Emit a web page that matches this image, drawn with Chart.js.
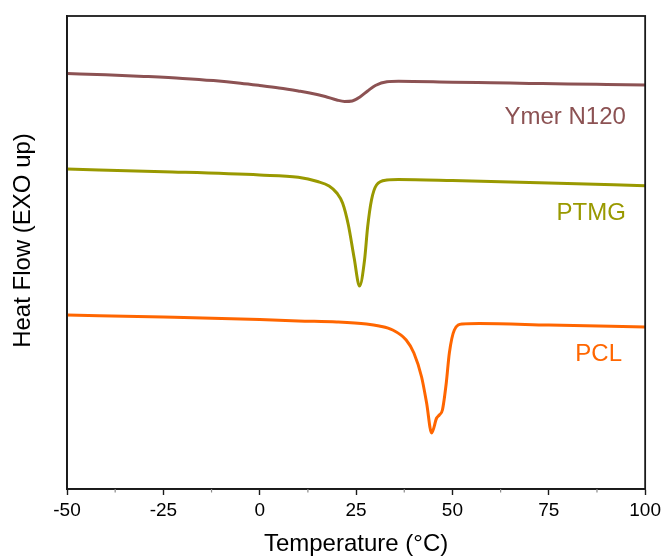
<!DOCTYPE html>
<html lang="en">
<head>
    <meta charset="UTF-8">
    <title>DSC curves</title>
    <script src="https://cdn.jsdelivr.net/npm/chart.js"></script>
    <style>
        html, body { margin: 0; padding: 0; background: #fff; }
        #wrap { width: 665px; height: 559px; }
    </style>
</head>
<body>
<div id="wrap"><canvas id="dsc"></canvas></div>
<script>
// Temperatures (°C) and heat flow readings (arbitrary units, EXO up)
const ymerTemp = [-50, -40, -30, -20, -12, -5, 0, 5, 10, 13, 17, 20, 22, 24, 26, 28, 30, 33, 36, 50, 60, 70, 80, 90, 100];
const ymerFlow = [415.5, 414.3, 412.6, 410.6, 408.4, 405.8, 403.5, 401, 398, 396, 392.5, 389, 387.5, 388, 392, 398, 403.5, 407.3, 407.8, 406.8, 406.2, 405.6, 405, 404.5, 404];

const ptmgTemp = [-50, -25, 0, 10, 15, 18, 20, 21.5, 23, 24.5, 25.9, 27.2, 28, 29, 30.3, 33, 36, 50, 75, 100];
const ptmgFlow = [320, 317.3, 314, 311.7, 307.5, 303, 296, 286, 264, 231, 203, 229, 262, 289, 304, 309, 309.5, 308.5, 306, 303.3];

const pclTemp = [-50, -25, 0, 10, 20, 27.7, 31, 34.5, 38, 40, 42, 43.3, 44.6, 45.9, 46.6, 47.4, 48.4, 49.2, 50.5, 52.6, 57, 75, 100];
const pclFlow = [174, 172, 169.5, 168, 167, 165, 163, 159, 149, 136, 112, 86, 56, 71, 74, 79, 106, 136, 159, 165, 165.5, 164, 162];

const xTicks = [-50, -25, 0, 25, 50, 75, 100];

const seriesNames = ['Ymer N120', 'PTMG', 'PCL'];
const seriesColors = ['#8c5253', '#999900', '#ff6600'];
// label anchor (right edge) in data units
const labelAt = [[95, 372], [95, 276], [94, 135]];

function pairs(xs, ys) {
    return xs.map((x, i) => ({ x: x, y: ys[i] }));
}

// frame + minor ticks + curve labels + y title
const framePlugin = {
    id: 'frame',
    afterDraw(chart) {
        const ctx = chart.ctx;
        const a = chart.chartArea;
        const xs = chart.scales.x;
        const ys = chart.scales.y;
        ctx.save();
        ctx.strokeStyle = '#1a1a1a';
        ctx.lineWidth = 1.8;
        ctx.strokeRect(a.left, a.top, a.right - a.left, a.bottom - a.top);
        // minor ticks
        ctx.strokeStyle = '#8a8a8a';
        ctx.lineWidth = 1.2;
        for (let v = -37.5; v < 100; v += 25) {
            const px = xs.getPixelForValue(v);
            ctx.beginPath();
            ctx.moveTo(px, a.bottom);
            ctx.lineTo(px, a.bottom + 3.5);
            ctx.stroke();
        }
        ctx.font = '24px "Liberation Sans", Arial, sans-serif';
        ctx.textAlign = 'right';
        ctx.textBaseline = 'middle';
        seriesNames.forEach((name, i) => {
            ctx.fillStyle = seriesColors[i];
            ctx.fillText(name, xs.getPixelForValue(labelAt[i][0]), ys.getPixelForValue(labelAt[i][1]));
        });
        // y axis title, sits a little above the middle of the frame
        ctx.fillStyle = '#000';
        ctx.textAlign = 'center';
        ctx.translate(23, (a.top + a.bottom) / 2 - 12);
        ctx.rotate(-Math.PI / 2);
        ctx.fillText('Heat Flow (EXO up)', 0, 0);
        ctx.restore();
    }
};

new Chart(document.getElementById('dsc'), {
    type: 'line',
    data: {
        datasets: [
            { label: seriesNames[0], data: pairs(ymerTemp, ymerFlow), borderColor: seriesColors[0] },
            { label: seriesNames[1], data: pairs(ptmgTemp, ptmgFlow), borderColor: seriesColors[1] },
            { label: seriesNames[2], data: pairs(pclTemp, pclFlow), borderColor: seriesColors[2] }
        ]
    },
    options: {
        responsive: true,
        maintainAspectRatio: false,
        animation: false,
        layout: { padding: { top: 16, right: 19, left: 0, bottom: 0 } },
        elements: {
            point: { radius: 0 },
            line: { borderWidth: 3, cubicInterpolationMode: 'monotone', fill: false }
        },
        plugins: {
            legend: { display: false },
            tooltip: { enabled: false }
        },
        scales: {
            x: {
                type: 'linear',
                min: -50,
                max: 100,
                afterBuildTicks: (s) => { s.ticks = xTicks.map(v => ({ value: v })); },
                afterFit: (s) => { s.height = 70; },
                border: { display: true, color: '#1a1a1a', width: 1.8 },
                grid: { drawOnChartArea: false, tickLength: 6, tickColor: '#1a1a1a', tickWidth: 1.4 },
                ticks: {
                    color: '#000',
                    padding: 4,
                    maxRotation: 0,
                    font: { family: '"Liberation Sans", Arial, sans-serif', size: 19 }
                },
                title: {
                    display: true,
                    text: 'Temperature (°C)',
                    color: '#000',
                    padding: { top: 6, bottom: 0 },
                    font: { family: '"Liberation Sans", Arial, sans-serif', size: 24 }
                }
            },
            y: {
                type: 'linear',
                min: 0,
                max: 473,
                afterFit: (s) => { s.width = 67; },
                border: { display: true, color: '#1a1a1a', width: 1.8 },
                grid: { display: false },
                ticks: { display: false },
                title: { display: false }
            }
        }
    },
    plugins: [framePlugin]
});
</script>
</body>
</html>
